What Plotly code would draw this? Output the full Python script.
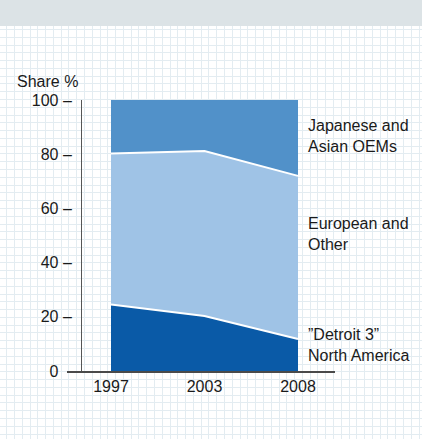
import plotly.graph_objects as go

years = ["1997", "2003", "2008"]
detroit3 = [24.5, 20.3, 11.8]
european = [55.8, 60.9, 60.2]
japanese = [19.7, 18.8, 28.0]
series_names = ["\u201dDetroit 3\u201d<br>North America", "European and<br>Other", "Japanese and<br>Asian OEMs"]
y_ticks = [0, 20, 40, 60, 80, 100]
y_ticktext = ["0\u00a0\u00a0\u00a0", "20 \u2013", "40 \u2013", "60 \u2013", "80 \u2013", "100 \u2013"]

W, H = 422, 439
FONT = "Liberation Sans, Arial, Helvetica, sans-serif"
FS = 16
colors = ["#0a5aa7", "#9fc3e6", "#5191c9"]

fig = go.Figure()

# invisible helper trace that carries the background grid axes x/y
fig.add_trace(go.Scatter(x=[0], y=[0], mode="markers", marker=dict(opacity=0),
                         showlegend=False, hoverinfo="skip", xaxis="x", yaxis="y"))

xi = list(range(len(years)))
for vals, name, col, lw in zip([detroit3, european, japanese], series_names, colors, [2, 2, 0]):
    fig.add_trace(go.Scatter(
        x=xi, y=vals, name=name, stackgroup="one", mode="lines",
        line=dict(color="white", width=lw), fillcolor=col,
        xaxis="x2", yaxis="y2", showlegend=False, hoverinfo="skip"))

x0px, x1px = 67, 335
cat0px, cat2px = 111, 298
step = (cat2px - cat0px) / 2
xr = [(x0px - cat0px) / step, (x1px - cat0px) / step]
ybot, ytop = 371, 100

fig.update_layout(
    width=W, height=H, autosize=False,
    margin=dict(l=0, r=0, t=0, b=0, pad=0, autoexpand=False),
    paper_bgcolor="white", plot_bgcolor="rgba(0,0,0,0)",
    font=dict(family=FONT, size=FS, color="#1a1a1a"),
    xaxis=dict(domain=[0, 1], range=[0, W], showgrid=True, gridcolor="#e3ecf1", gridwidth=1,
               tick0=6.7, dtick=7.78, showticklabels=False, zeroline=False, showline=False,
               automargin=False, fixedrange=True),
    yaxis=dict(domain=[0, 1], range=[H, 0], showgrid=True, gridcolor="#e3ecf1", gridwidth=1,
               tick0=29.5, dtick=7.78, showticklabels=False, zeroline=False, showline=False,
               automargin=False, fixedrange=True),
    xaxis2=dict(domain=[x0px / W, x1px / W], range=xr, anchor="y2",
                tickvals=xi, ticktext=years, showgrid=False, zeroline=False,
                showline=True, linecolor="#4a4a4a", linewidth=2, ticks="",
                ticklabelstandoff=0, automargin=False, fixedrange=True,
                tickfont=dict(size=FS, color="#1a1a1a")),
    yaxis2=dict(domain=[(H - ybot) / H, (H - ytop) / H], range=[0, 100], anchor="free",
                position=81 / W, tickvals=y_ticks, ticktext=y_ticktext,
                showgrid=False, zeroline=False, showline=True, linecolor="#555555",
                linewidth=1, ticks="", ticklabelstandoff=6, automargin=False, fixedrange=True,
                tickfont=dict(size=FS, color="#1a1a1a")),
    shapes=[dict(type="rect", xref="paper", yref="paper", x0=0, x1=1,
                 y0=1 - 26 / H, y1=1, fillcolor="#dce3e6", line=dict(width=0), layer="above")],
)

annotations = [
    dict(text="Share %", x=80 / W, y=(H - 81) / H, xanchor="right", yanchor="middle"),
    dict(text=series_names[2], x=306 / W, y=(H - 136.5) / H, xanchor="left", yanchor="middle", align="left"),
    dict(text=series_names[1], x=306 / W, y=(H - 233.5) / H, xanchor="left", yanchor="middle", align="left"),
    dict(text=series_names[0], x=306 / W, y=(H - 344.5) / H, xanchor="left", yanchor="middle", align="left"),
]
for a in annotations:
    a.update(xref="paper", yref="paper", showarrow=False, font=dict(size=FS, family=FONT, color="#1a1a1a"))
fig.update_layout(annotations=annotations)

fig.write_html(
    "out.html",
    config={"displayModeBar": False},
    post_script="document.body.style.margin='0';document.body.style.padding='0';"
                "document.documentElement.style.overflow='hidden';window.scrollTo(0,0);",
)
